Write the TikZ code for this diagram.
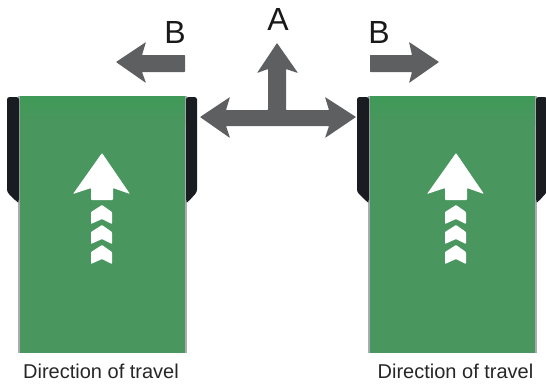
\documentclass[tikz,border=0pt]{standalone}
\usepackage{fontspec}
\setmainfont{Liberation Sans}
\definecolor{beltgreen}{HTML}{4A965F}
\definecolor{beltdark}{HTML}{3F9A57}
\definecolor{railblack}{HTML}{191C20}
\definecolor{arrowgrey}{HTML}{5E5F61}
\definecolor{edgegrey}{HTML}{A9ACB2}
\begin{document}
\begin{tikzpicture}
[x=1pt,y=-1pt,
belt/.style={fill=beltgreen},
beltedge/.style={fill=edgegrey},
rail/.style={fill=railblack,rounded corners=2.5pt},
bigarrow/.style={fill=arrowgrey,rounded corners=.6pt},
whitemark/.style={fill=white,rounded corners=.8pt},
letter/.style={font=\fontsize{32}{32}\selectfont,text=black!90,inner sep=0pt},
caption/.style={font=\fontsize{20}{22}\selectfont,text=black!85,inner sep=0pt}]

\useasboundingbox (0,0) rectangle (546,383);

%
\foreach \xs in {0,350}{
\begin{scope}[xshift=\xs]
\fill[beltedge] (18,96) rectangle (187,353);
\fill[belt] (20,96) rectangle (185,353);
\shade[top color=beltdark,bottom color=beltgreen] (20,96) rectangle (185,125);
\fill[rail] (7,97) -- (19,97) -- (19,202) -- (17,202) -- (7,192) -- cycle;
\fill[rail] (186,97) -- (197,97) -- (197,192) -- (188,202) -- (186,202) -- cycle;
\end{scope}
}

%
\foreach \xs in {0,354}{
\begin{scope}[xshift=\xs]
\fill[whitemark] (102,153) -- (130,194) -- (113,188) -- (113,200) -- (91,200) -- (91,188) -- (73,194) -- cycle;
\foreach \ys in {0,20,40}{
\fill[whitemark,yshift=-\ys] (102,205) -- (112,212) -- (112,224) -- (102,219) -- (91,224) -- (91,212) -- cycle;
}
\end{scope}
}

%
\fill[bigarrow] (116,62) -- (146,42) -- (142,55) -- (185,55) -- (185,72) -- (142,72) -- (146,83) -- cycle;
\fill[bigarrow] (439,62) -- (409,42) -- (412,55) -- (370,55) -- (370,72) -- (412,72) -- (409,83) -- cycle;
\fill[bigarrow] (277,43) -- (298,73) -- (286,69) -- (286,110) -- (329,110) -- (325,97) -- (356,117)
  -- (325,138) -- (329,126) -- (226,126) -- (230,138) -- (200,117) -- (230,97) -- (226,110)
  -- (268,110) -- (268,69) -- (257,73) -- cycle;

\node (labelAtop) [letter] at (278,19) {A};
\node (labelBleft) [letter] at (175,32) {B};
\node (labelBright) [letter] at (379,32) {B};
\node (travelleft) [caption] at (101,371) {Direction of travel};
\node (travelright) [caption] at (455.5,371) {Direction of travel};

\end{tikzpicture}
\end{document}
